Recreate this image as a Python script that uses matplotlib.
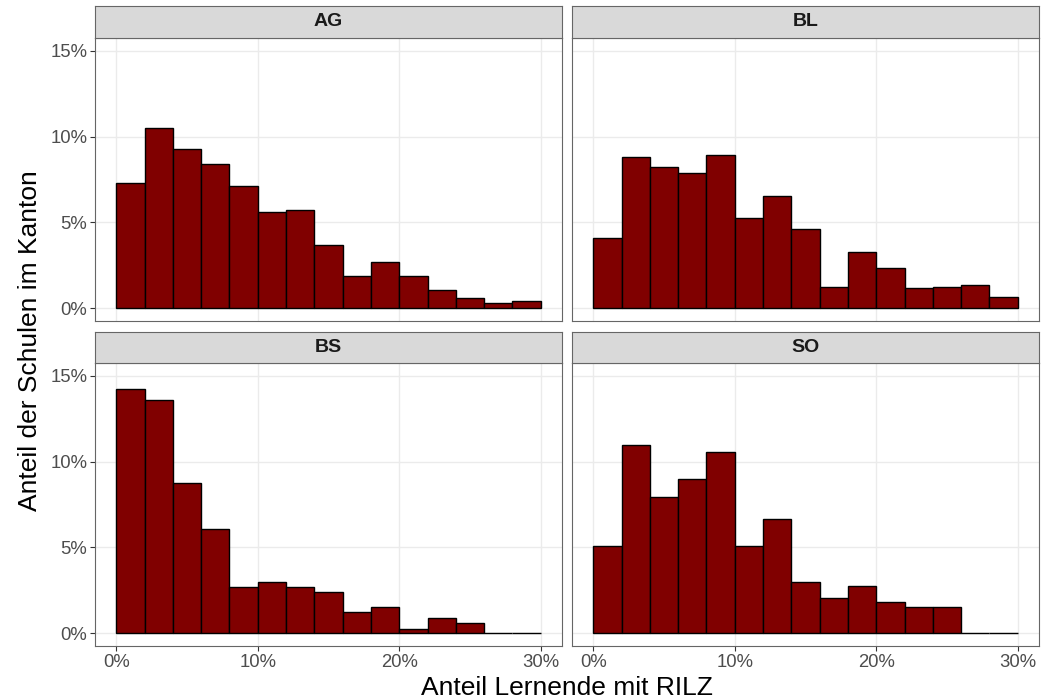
#!/usr/bin/env python3
"""Histogramm: Anteil Lernende mit RILZ pro Kanton (Facetten wie ggplot2 theme_bw)."""

import matplotlib

matplotlib.use("Agg")
import matplotlib.pyplot as plt
from matplotlib.patches import Rectangle

plt.rcParams["font.family"] = ["Liberation Sans", "DejaVu Sans"]

# Klassengrenzen (linke Kante, Breite 2 Prozentpunkte)
bin_left = [0, 2, 4, 6, 8, 10, 12, 14, 16, 18, 20, 22, 24, 26, 28]
bin_width = 2

# Anteil der Schulen pro Klasse (in %)
kantone = ["AG", "BL", "BS", "SO"]
ag = [7.30, 10.53, 9.28, 8.39, 7.14, 5.62, 5.72, 3.66, 1.89, 2.68, 1.89, 1.03, 0.58, 0.29, 0.39]
bl = [4.10, 8.83, 8.21, 7.88, 8.93, 5.25, 6.54, 4.63, 1.26, 3.27, 2.32, 1.17, 1.25, 1.36, 0.64]
bs = [14.22, 13.60, 8.77, 6.05, 2.70, 3.00, 2.70, 2.41, 1.21, 1.50, 0.27, 0.89, 0.60, 0.0, 0.0]
so = [5.08, 10.97, 7.96, 9.01, 10.58, 5.08, 6.65, 3.00, 2.06, 2.74, 1.81, 1.54, 1.54, 0.0, 0.0]
werte = [ag, bl, bs, so]

x_ticks = [0, 10, 20, 30]
y_ticks = [0, 5, 10, 15]

W, H = 1049, 700
fig = plt.figure(figsize=(W / 100, H / 100), dpi=100)

# Pixel-Layout der Panels (links, rechts) und (Strip oben, Panel oben, Panel unten)
cols = [(95, 562), (572, 1039)]
rows = [(6, 38, 321), (332, 363, 646)]

border = "#666666"
tick_grey = "#4D4D4D"

for i, (name, vals) in enumerate(zip(kantone, werte)):
    r, c = divmod(i, 2)
    x0, x1 = cols[c]
    s0, p0, p1 = rows[r]

    ax = fig.add_axes([x0 / W, 1 - p1 / H, (x1 - x0) / W, (p1 - p0) / H])
    ax.bar(bin_left, vals, width=bin_width, align="edge", color="#800000",
           edgecolor="black", linewidth=1.0, zorder=3)
    ax.set_xlim(-1.5, 31.5)
    ax.set_ylim(-0.75, 15.75)
    ax.set_xticks(x_ticks)
    ax.set_yticks(y_ticks)
    ax.grid(True, color="#EBEBEB", linewidth=1.0, zorder=0)
    ax.set_axisbelow(True)
    for sp in ax.spines.values():
        sp.set_color(border)
        sp.set_linewidth(0.8)
    ax.tick_params(length=3.5, width=0.8, color="#333333", labelcolor=tick_grey,
                   labelsize=13.3, pad=2)
    if c == 0:
        ax.set_yticklabels([f"{t}%" for t in y_ticks])
    else:
        ax.tick_params(axis="y", left=False, labelleft=False)
    if r == 1:
        ax.set_xticklabels([f"{t}%" for t in x_ticks])
    else:
        ax.tick_params(axis="x", bottom=False, labelbottom=False)

    # Facetten-Titel
    sax = fig.add_axes([x0 / W, 1 - p0 / H, (x1 - x0) / W, (p0 - s0) / H])
    sax.set_xlim(0, 1)
    sax.set_ylim(0, 1)
    sax.add_patch(Rectangle((0, 0), 1, 1, facecolor="#D9D9D9", edgecolor="none"))
    for sp in sax.spines.values():
        sp.set_color(border)
        sp.set_linewidth(0.8)
    sax.set_xticks([])
    sax.set_yticks([])
    sax.text(0.5, 0.5, name, ha="center", va="center", fontsize=14,
             fontweight="bold", color="#1A1A1A")

fig.text(567 / W, 1 - 688 / H, "Anteil Lernende mit RILZ", ha="center", va="center",
         fontsize=19, color="black")
fig.text(30 / W, 1 - 341 / H, "Anteil der Schulen im Kanton", ha="center", va="center",
         rotation=90, fontsize=19, color="black")

fig.savefig("out.png", dpi=100)
